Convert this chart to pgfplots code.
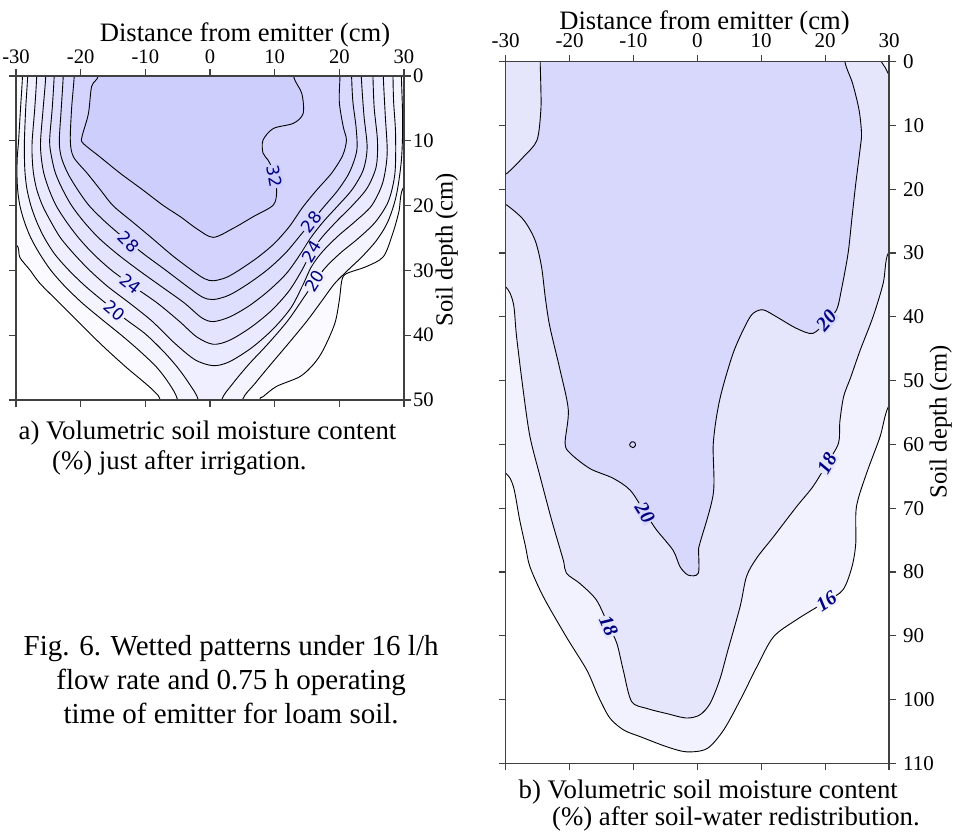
\documentclass[border=0pt]{standalone}
\usepackage{fontspec}
\setmainfont{Liberation Serif}
\newfontfamily\labsans{DejaVu Sans}
\usepackage{pgfplots}
\pgfplotsset{compat=1.18}
\usepackage{pgfplotstable}

\definecolor{cA}{RGB}{250,250,255}
\definecolor{cB}{RGB}{244,244,255}
\definecolor{cC}{RGB}{239,239,255}
\definecolor{cD}{RGB}{233,233,255}
\definecolor{cE}{RGB}{228,228,255}
\definecolor{cF}{RGB}{222,222,254}
\definecolor{cG}{RGB}{217,217,254}
\definecolor{cH}{RGB}{211,211,254}
\definecolor{cI}{RGB}{206,206,253}
\definecolor{rA}{RGB}{242,242,254}
\definecolor{rB}{RGB}{229,229,252}
\definecolor{rC}{RGB}{216,216,252}
\definecolor{navy}{RGB}{0,0,128}

% ---------- left panel contours (a) ----------
\pgfplotstableread[row sep=\\]{x y\\
-34 25\\ -30 26\\ -29.4 28\\ -27.8 30\\ -26.3 32\\ -23.3 35\\ -20.5 37.8\\ -18.3 40\\ -16 42.2\\ -12.9 45\\ -10.5 47\\ -8.7 48.6\\ -7.7 50\\ -7.4 54\\ 7.4 54\\ 7.7 50\\ 8.2 49.5\\ 10.3 47.9\\ 13.9 46.4\\ 16 44.5\\ 17.5 42.3\\ 19.3 38.2\\ 20 34.6\\ 20.4 31.5\\ 21.1 30.5\\ 24.2 29.4\\ 26.8 27.9\\ 28.2 24.5\\ 29.2 21\\ 30 17.1\\ 34 15\\
}\La
\pgfplotstableread[row sep=\\]{x y\\
-34 25\\ -30 26\\ -29.4 28\\ -27.8 30\\ -26.3 32\\ -23.3 35\\ -20.5 37.8\\ -18.3 40\\ -16 42.2\\ -12.9 45\\ -10.5 47\\ -8.7 48.6\\ -7.7 50\\ -7.4 54\\ 7.4 54\\ 7.7 50\\ 8.2 49.5\\ 10.3 47.9\\ 13.9 46.4\\ 16 44.5\\ 17.5 42.3\\ 19.3 38.2\\ 20 34.6\\ 20.4 31.5\\ 21.1 30.5\\ 24.2 29.4\\ 26.8 27.9\\ 28.2 24.5\\ 29.2 21\\ 30 17.1\\ 34 15\\ 34 -4\\ -34 -4\\
}\LaFill
\pgfplotstableread[row sep=\\]{x y\\
-29 -4\\ -29 0\\ -29.3 5\\ -29.6 10\\ -29.8 12.5\\ -29.85 15\\ -29.75 17.5\\ -29.4 20\\ -28.7 22.5\\ -27.7 25\\ -26.3 27.5\\ -24.6 30\\ -22.4 32.5\\ -19.8 35\\ -16.8 37.5\\ -13.7 40\\ -10.8 42.5\\ -8.2 45\\ -6.3 47.5\\ -5 50\\ -4.7 54\\ 4.7 54\\ 5 50\\ 7 47.4\\ 9.4 44.5\\ 12.2 41.2\\ 15 37.8\\ 17.3 34.7\\ 19.3 32\\ 21.5 29.8\\ 23.6 27.8\\ 25.8 25.3\\ 27.5 22.5\\ 28.8 18.5\\ 29.6 13\\ 29.8 7\\ 29.6 0\\ 29.6 -4\\
}\Lb
\pgfplotstableread[row sep=\\]{x y\\
-28.2 -4\\ -28.2 0\\ -28.5 5\\ -28.7 10\\ -28.7 12.5\\ -28.6 15\\ -28.3 17.5\\ -27.7 20\\ -26.8 22.5\\ -25.6 25\\ -24 27.5\\ -21.8 30\\ -19.2 32.5\\ -16.2 35\\ -13.1 37.5\\ -10 39.8\\ -7.2 42.5\\ -5 45\\ -3.2 47.5\\ -1.8 50\\ -1.5 54\\ 1.5 54\\ 1.8 50\\ 3.5 47.5\\ 6 44.5\\ 9 41.3\\ 12 37.8\\ 14.3 34.5\\ 16.2 31.7\\ 18 29.4\\ 20.3 27.2\\ 23 25\\ 25.6 22.5\\ 27.6 19.3\\ 28.6 15\\ 28.7 9\\ 28.4 4\\ 28.3 0\\ 28.3 -4\\
}\Lc
\pgfplotstableread[row sep=\\]{x y\\
-26.8 -4\\ -26.8 0\\ -27.1 5\\ -27.5 10\\ -27.5 12.5\\ -27.3 15\\ -26.8 17.5\\ -25.9 20\\ -24.6 22.5\\ -23.1 25\\ -21 27.5\\ -18.6 30\\ -15.8 32.5\\ -12.5 35\\ -9 37.8\\ -5.5 41.2\\ -2.3 43.8\\ 0.5 44.7\\ 3 44.1\\ 6.5 41.9\\ 9.8 39\\ 12.5 35.8\\ 14.3 32.4\\ 15.7 29.4\\ 17.4 27.1\\ 19.8 24.7\\ 22.5 22.4\\ 25 20\\ 26.7 16.5\\ 27.4 12\\ 27.1 6\\ 26.8 0\\ 26.8 -4\\
}\Ld
\pgfplotstableread[row sep=\\]{x y\\
-25.4 -4\\ -25.4 0\\ -25.8 5\\ -26.2 10\\ -26.1 12.5\\ -25.7 15\\ -24.9 17.5\\ -23.8 20\\ -22.2 22.5\\ -20.3 25\\ -18 27.5\\ -15.2 30\\ -11.8 32.5\\ -8.2 35\\ -4.8 37.8\\ -2 40.3\\ 0.5 41.4\\ 3 40.8\\ 6.3 38.8\\ 9.5 36.2\\ 12.2 33.2\\ 14.2 30\\ 15.7 27.1\\ 17.4 24.8\\ 19.7 22.3\\ 22 20\\ 24.3 17.3\\ 25.7 14\\ 25.9 10\\ 25.4 5\\ 25.2 0\\ 25.2 -4\\
}\Le
\pgfplotstableread[row sep=\\]{x y\\
-24.1 -4\\ -24.1 0\\ -24.4 5\\ -24.8 10\\ -24.5 12.5\\ -23.9 15\\ -22.8 17.5\\ -21.4 20\\ -19.5 22.5\\ -17.2 25\\ -14.3 27.5\\ -11 30\\ -7.5 32.5\\ -4 35\\ -1.3 37.3\\ 0.5 37.9\\ 3 37.2\\ 6 35.5\\ 9 33.2\\ 11.8 30.5\\ 13.9 27.6\\ 15.7 24.8\\ 17.6 22.4\\ 19.8 20\\ 22 17.5\\ 23.7 14.5\\ 24.3 11\\ 23.8 6\\ 23.4 0\\ 23.4 -4\\
}\Lf
\pgfplotstableread[row sep=\\]{x y\\
-22.7 -4\\ -22.7 0\\ -23 5\\ -23.3 10\\ -23 12.5\\ -22 15\\ -20.5 17.5\\ -18.7 20\\ -16.2 22.5\\ -13.3 25\\ -10.2 27.5\\ -6.8 30\\ -3.5 32.5\\ -1.2 34.1\\ 0.5 34.5\\ 3 33.8\\ 6 32\\ 9 29.8\\ 11.7 27.3\\ 13.8 24.8\\ 15.7 22.5\\ 17.6 20.2\\ 19.8 17.6\\ 21.6 14.8\\ 22.7 11.5\\ 22.6 8\\ 22.1 4\\ 21.9 0\\ 21.9 -4\\
}\Lg
\pgfplotstableread[row sep=\\]{x y\\
-21 -4\\ -21 0\\ -21.4 5\\ -21.6 10\\ -21.1 12.5\\ -19 15\\ -17 17.5\\ -15 20\\ -12 22.5\\ -9 25\\ -5.7 27.8\\ -2.5 30.2\\ -0.8 31.3\\ 0.5 31.6\\ 2.5 31.1\\ 4.6 29.9\\ 7.5 27.9\\ 10 25.8\\ 12.3 23.2\\ 14.3 20.3\\ 16.5 17.6\\ 18.8 15\\ 20.5 12.3\\ 21.1 9.9\\ 20.6 7.8\\ 20 4\\ 20.1 0\\ 20.1 -4\\
}\Lh
\pgfplotstableread[row sep=\\]{x y\\
-17.3 -4\\ -17.3 0\\ -18.3 1.6\\ -18.8 5.8\\ -19.8 9.4\\ -19.6 10.4\\ -17 12.5\\ -13.9 15\\ -10.5 17.5\\ -7.2 20\\ -4.6 21.7\\ -2 23.6\\ 0.5 24.9\\ 3.6 23.5\\ 6.7 21.7\\ 9.8 19.9\\ 10.3 17.6\\ 9.8 14.8\\ 9 13\\ 8.2 11.9\\ 8.2 9.9\\ 9.8 8.1\\ 12.9 7.3\\ 14.4 5.8\\ 14.2 2.7\\ 12.9 0\\ 12.9 -4\\
}\Li

% ---------- right panel contours (b) ----------
\pgfplotstableread[row sep=\\]{x y\\
-33 63\\ -30 64.5\\ -28.8 66.6\\ -27.8 71.9\\ -26.9 76\\ -26.2 79.2\\ -24.1 83.9\\ -20.5 90.2\\ -17.3 95.4\\ -15.5 99.5\\ -13.7 102.9\\ -11.5 104.8\\ -9 105.8\\ -4.8 107.4\\ -1.7 108.2\\ 1.5 107.7\\ 4.1 104.8\\ 6.7 100.1\\ 9.3 94.9\\ 11.9 90.2\\ 15.5 87.5\\ 20.2 84.6\\ 22.8 82.8\\ 24.2 79.2\\ 24.8 75.5\\ 24.9 69.8\\ 26.5 64.5\\ 28.6 58.8\\ 29.9 54.1\\ 33 50\\
}\Ra
\pgfplotstableread[row sep=\\]{x y\\
-33 63\\ -30 64.5\\ -28.8 66.6\\ -27.8 71.9\\ -26.9 76\\ -26.2 79.2\\ -24.1 83.9\\ -20.5 90.2\\ -17.3 95.4\\ -15.5 99.5\\ -13.7 102.9\\ -11.5 104.8\\ -9 105.8\\ -4.8 107.4\\ -1.7 108.2\\ 1.5 107.7\\ 4.1 104.8\\ 6.7 100.1\\ 9.3 94.9\\ 11.9 90.2\\ 15.5 87.5\\ 20.2 84.6\\ 22.8 82.8\\ 24.2 79.2\\ 24.8 75.5\\ 24.9 69.8\\ 26.5 64.5\\ 28.6 58.8\\ 29.9 54.1\\ 33 50\\ 33 -4\\ -33 -4\\
}\RaFill
\pgfplotstableread[row sep=\\]{x y\\
-33 34\\ -30 35.3\\ -28.8 37.9\\ -28.3 43.1\\ -27.2 52\\ -26.2 58.8\\ -24.6 65.1\\ -22.8 71.9\\ -21 78.1\\ -20.5 80.2\\ -18.4 81.8\\ -15.8 84.4\\ -13.9 88.4\\ -12.6 91.2\\ -11.6 95.4\\ -10.3 100.3\\ -7.9 101.4\\ -4.8 102.2\\ -1.7 102.9\\ 0.4 102.4\\ 2 100.6\\ 3.5 96.9\\ 4.8 92.2\\ 6.7 85.4\\ 7.7 80.7\\ 9.3 77.8\\ 11.9 74.5\\ 15.5 69.8\\ 18.1 66.6\\ 20.3 63\\ 22.1 59.8\\ 22.3 56.5\\ 22.9 52.5\\ 24 49.5\\ 25.5 45.2\\ 27.5 40\\ 29.1 34.7\\ 29.9 30\\ 33 28\\
}\Rb
\pgfplotstableread[row sep=\\]{x y\\
-33 34\\ -30 35.3\\ -28.8 37.9\\ -28.3 43.1\\ -27.2 52\\ -26.2 58.8\\ -24.6 65.1\\ -22.8 71.9\\ -21 78.1\\ -20.5 80.2\\ -18.4 81.8\\ -15.8 84.4\\ -13.9 88.4\\ -12.6 91.2\\ -11.6 95.4\\ -10.3 100.3\\ -7.9 101.4\\ -4.8 102.2\\ -1.7 102.9\\ 0.4 102.4\\ 2 100.6\\ 3.5 96.9\\ 4.8 92.2\\ 6.7 85.4\\ 7.7 80.7\\ 9.3 77.8\\ 11.9 74.5\\ 15.5 69.8\\ 18.1 66.6\\ 20.3 63\\ 22.1 59.8\\ 22.3 56.5\\ 22.9 52.5\\ 24 49.5\\ 25.5 45.2\\ 27.5 40\\ 29.1 34.7\\ 29.9 30\\ 33 28\\ 33 -4\\ -33 -4\\
}\RbFill
\pgfplotstableread[row sep=\\]{x y\\
-24.6 -4\\ -24.6 0\\ -24.5 4\\ -24.5 7.6\\ -25.1 12.3\\ -27.2 14.9\\ -29.8 17.5\\ -32 18.8\\ -32 21.2\\ -29.8 22.5\\ -27.2 24.8\\ -25.4 28\\ -24.4 32.1\\ -23.8 37\\ -23.1 41.5\\ -21.5 48.3\\ -20.2 54.6\\ -20.7 59.8\\ -19.9 61.4\\ -16.8 63.8\\ -13.2 65.3\\ -10.5 67.2\\ -8.2 70.7\\ -6.4 73.4\\ -3.8 76.6\\ -2.7 79.2\\ -1.4 80.5\\ 0.15 80.2\\ 0.2 76.6\\ 0.4 75.5\\ 2.5 67.7\\ 2.5 59.8\\ 3.5 53\\ 5.6 45.7\\ 7.7 41\\ 8.8 39.4\\ 10.3 38.9\\ 12.4 40\\ 15.5 41.8\\ 18.1 42.6\\ 20.2 40.6\\ 21.8 38.9\\ 22.6 35.5\\ 23.6 30\\ 24.2 24.5\\ 24.8 19.1\\ 25.5 13.5\\ 25.7 11.2\\ 25.3 7.5\\ 24.3 3.4\\ 23.1 0\\ 23.1 -4\\
}\Rc
\pgfplotstableread[row sep=\\]{x y\\
28.6 -1\\ 28.8 0\\ 29.4 0.9\\ 30 2.1\\ 31 3.5\\
}\Rcorner
\pgfplotstableread[row sep=\\]{x y\\
28.6 -1\\ 28.8 0\\ 29.4 0.9\\ 30 2.1\\ 31 3.5\\ 31 -1\\
}\RcornerFill
\pgfplotstableread[row sep=\\]{x y\\
-10.6 60\\ -10.3 59.6\\ -9.8 59.7\\ -9.7 60.2\\ -10.1 60.5\\ -10.5 60.3\\ -10.6 60\\
}\Rloop

\pgfplotsset{
  panel/.style={
    scale only axis, xmin=-30, xmax=30, ymin=0, y dir=reverse,
    xtick={-30,-20,...,30}, xticklabels={-30,-20,-10,0,10,20,30},
    tick align=outside, major tick length=3.5pt,
    xtick pos=both, ytick pos=both,
    xticklabel pos=upper, yticklabel pos=right,
    axis line style={black!75, line width=0.6pt},
    every tick/.style={black!75, line width=0.6pt},
    axis on top, clip=true,
  },
  cline/.style={black, line width=0.45pt, smooth, tension=0.5},
  cfill/.style={draw=none, fill=#1, smooth, tension=0.5},
}

\begin{document}
\begin{tikzpicture}
\path[use as bounding box] (0,0) rectangle (476.5pt,415.5pt);

% ---------------- panel a ----------------
\begin{axis}[panel,
  at={(8pt,215.5pt)}, anchor=south west,
  width=194pt, height=162pt, ymax=50,
  ytick={0,10,...,50}, yticklabels={0,10,20,30,40,50},
  tick label style={font=\fontsize{10.3}{12}\selectfont},
  yticklabel style={xshift=-2.5pt},
  xticklabel style={yshift=-1pt},
]
\addplot[cfill=cA] table {\LaFill};
\addplot[cfill=cB] table {\Lb};
\addplot[cfill=cC] table {\Lc};
\addplot[cfill=cD] table {\Ld};
\addplot[cfill=cE] table {\Le};
\addplot[cfill=cF] table {\Lf};
\addplot[cfill=cG] table {\Lg};
\addplot[cfill=cH] table {\Lh};
\addplot[cfill=cI] table {\Li};
\addplot[cline] table {\La};
\addplot[cline] table {\Lb};
\addplot[cline] table {\Lc};
\addplot[cline] table {\Ld};
\addplot[cline] table {\Le};
\addplot[cline] table {\Lf};
\addplot[cline] table {\Lg};
\addplot[cline] table {\Lh};
\addplot[cline] table {\Li};
\begin{scope}[every node/.style={font=\labsans\fontsize{8.5}{9}\selectfont, text=navy, inner sep=0.5pt}]
\node[fill=cI, rotate=-80] at (axis cs:10.0,15.5) {32};
\node[fill=cG, rotate=-45] at (axis cs:-12.6,25.6) {28};
\node[fill=cE, rotate=-38] at (axis cs:-12.3,32.1) {24};
\node[fill=cC, rotate=-40] at (axis cs:-14.7,36.2) {20};
\node[fill=cG, rotate=52] at (axis cs:15.7,22.5) {28};
\node[fill=cE, rotate=58] at (axis cs:15.7,27.1) {24};
\node[fill=cC, rotate=58] at (axis cs:16.2,31.7) {20};
\end{scope}
\end{axis}

% ---------------- panel b ----------------
\begin{axis}[panel,
  at={(252.85pt,33.85pt)}, anchor=south west,
  width=191.65pt, height=350.8pt, ymax=110,
  ytick={0,10,...,110}, yticklabels={0,10,20,30,40,50,60,70,80,90,100,110},
  tick label style={font=\fontsize{10.5}{12}\selectfont},
]
\addplot[cfill=rA] table {\RaFill};
\addplot[cfill=rB] table {\RbFill};
\addplot[cfill=rA] table {\RcornerFill};
\addplot[cfill=rC] table {\Rc};
\addplot[cline] table {\Ra};
\addplot[cline] table {\Rb};
\addplot[cline] table {\Rc};
\addplot[cline] table {\Rcorner};
\addplot[cline] table {\Rloop};
\begin{scope}[every node/.style={font=\bfseries\itshape\fontsize{10}{11}\selectfont, text=navy, inner sep=0.5pt}]
\node[fill=rC, rotate=-58] at (axis cs:-8.2,70.7) {20};
\node[fill=rC, rotate=50] at (axis cs:20.2,40.6) {20};
\node[fill=rB, rotate=-66] at (axis cs:-13.9,88.5) {18};
\node[fill=rB, rotate=60] at (axis cs:20.3,63) {18};
\node[fill=rA, rotate=33] at (axis cs:20.2,84.6) {16};
\end{scope}
\end{axis}

% ---------------- texts ----------------
\node[anchor=base, font=\fontsize{13.3}{15}\selectfont] at (122.5pt,394.65pt) {Distance from emitter (cm)};
\node[anchor=base, font=\fontsize{13.3}{15}\selectfont] at (352.25pt,400.5pt) {Distance from emitter (cm)};
\node[rotate=90, font=\fontsize{12.3}{14}\selectfont] at (223.35pt,290.75pt) {Soil depth (cm)};
\node[rotate=90, font=\fontsize{12.3}{14}\selectfont] at (470.4pt,204.75pt) {Soil depth (cm)};
\node[anchor=base west, inner sep=0pt, font=\fontsize{13.4}{15}\selectfont] at (9.15pt,195.85pt) {a) Volumetric soil moisture content};
\node[anchor=base west, inner sep=0pt, font=\fontsize{13.4}{15}\selectfont] at (25.85pt,180.5pt) {(\%) just after irrigation.};
\node[anchor=base west, inner sep=0pt, font=\fontsize{13.4}{15}\selectfont] at (259.15pt,16.5pt) {b) Volumetric soil moisture content};
\node[anchor=base west, inner sep=0pt, font=\fontsize{13.4}{15}\selectfont] at (275.85pt,2.7pt) {(\%) after soil-water redistribution.};
\node (f1) [anchor=base west, inner sep=0pt, font=\fontsize{14.5}{17}\selectfont] at (11.65pt,88pt) {Fig. 6. Wetted patterns under 16 l/h};
\node[anchor=base, inner sep=0pt, font=\fontsize{14.5}{17}\selectfont] at ([yshift=-17pt]f1.base) {flow rate and 0.75 h operating};
\node[anchor=base, inner sep=0pt, font=\fontsize{14.5}{17}\selectfont] at ([yshift=-34pt]f1.base) {time of emitter for loam soil.};
\end{tikzpicture}
\end{document}
